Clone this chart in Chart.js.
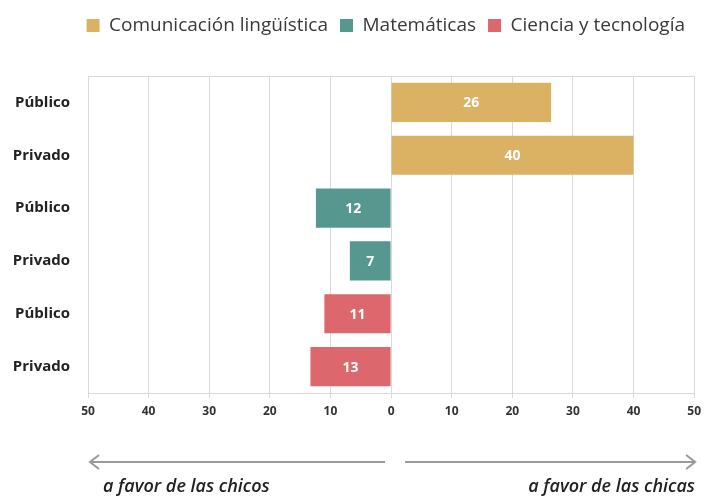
<!DOCTYPE html>
<html>
<head>
<meta charset="utf-8">
<script src="https://cdn.jsdelivr.net/npm/chart.js@4/dist/chart.umd.min.js"></script>
<style>
  html, body { margin: 0; padding: 0; background: #fff; }
  #wrap { width: 707px; height: 499px; }
</style>
</head>
<body>
<div id="wrap"><canvas id="grafica"></canvas></div>
<script>
const etiquetas = ["Público", "Privado", "Público", "Privado", "Público", "Privado"];
const nombresSeries = ["Comunicación lingüística", "Matemáticas", "Ciencia y tecnología"];
const comunicacion = [26.4, 40, null, null, null, null];
const matematicas = [null, null, -12.4, -6.8, null, null];
const ciencia = [null, null, null, null, -11, -13.3];
const colores = ["#dbb264", "#56978f", "#dc676c"];
const textoChicos = "a favor de las chicos";
const textoChicas = "a favor de las chicas";

const fuente = "'Open Sans', Lato, sans-serif";

// etiquetas blancas dentro de las barras
const etiquetasBarras = {
  id: 'etiquetasBarras',
  afterDatasetsDraw(chart) {
    const ctx = chart.ctx;
    ctx.save();
    ctx.fillStyle = '#fff';
    ctx.font = "bold 14px " + fuente;
    ctx.textAlign = 'center';
    ctx.textBaseline = 'middle';
    chart.data.datasets.forEach((ds, i) => {
      chart.getDatasetMeta(i).data.forEach((bar, j) => {
        const v = ds.data[j];
        if (v === null) return;
        ctx.fillText(Math.round(Math.abs(v)), (bar.x + bar.base) / 2, bar.y + 1);
      });
    });
    ctx.restore();
  }
};

// borde del area y flechas de abajo
const marcoYFlechas = {
  id: 'marcoYFlechas',
  beforeInit(chart) {
    const fitOrig = chart.legend.fit;
    chart.legend.fit = function () {
      fitOrig.call(this);
      this.height += 31;
    };
  },
  afterDraw(chart) {
    const ctx = chart.ctx;
    const a = chart.chartArea;
    const x = chart.scales.x;
    ctx.save();
    ctx.strokeStyle = '#d9d9d9';
    ctx.lineWidth = 1;
    ctx.beginPath();
    ctx.moveTo(a.left, a.top + 0.5);
    ctx.lineTo(a.right, a.top + 0.5);
    ctx.stroke();

    const y = 462;
    ctx.strokeStyle = '#9a9a9a';
    ctx.lineWidth = 2;
    const izq1 = x.getPixelForValue(-50) + 2, izq2 = x.getPixelForValue(0) - 6;
    const der1 = x.getPixelForValue(0) + 14, der2 = x.getPixelForValue(50) + 1;
    ctx.beginPath();
    ctx.moveTo(izq2, y); ctx.lineTo(izq1, y);
    ctx.moveTo(izq1 + 9, y - 7); ctx.lineTo(izq1, y); ctx.lineTo(izq1 + 9, y + 7);
    ctx.moveTo(der1, y); ctx.lineTo(der2, y);
    ctx.moveTo(der2 - 9, y - 7); ctx.lineTo(der2, y); ctx.lineTo(der2 - 9, y + 7);
    ctx.stroke();

    ctx.fillStyle = '#222';
    ctx.font = "italic 600 18px " + fuente;
    ctx.textBaseline = 'middle';
    ctx.textAlign = 'left';
    ctx.fillText(textoChicos, 103, 487);
    ctx.textAlign = 'right';
    ctx.fillText(textoChicas, 695, 487);
    ctx.restore();
  }
};

new Chart(document.querySelector("#grafica"), {
  type: 'bar',
  data: {
    labels: etiquetas,
    datasets: [
      { label: nombresSeries[0], data: comunicacion, backgroundColor: colores[0] },
      { label: nombresSeries[1], data: matematicas, backgroundColor: colores[1] },
      { label: nombresSeries[2], data: ciencia, backgroundColor: colores[2] }
    ]
  },
  options: {
    indexAxis: 'y',
    responsive: true,
    maintainAspectRatio: false,
    animation: false,
    layout: { padding: { top: 4, right: 10, bottom: 60, left: 0 } },
    datasets: { bar: { categoryPercentage: 1, barPercentage: 0.74 } },
    plugins: {
      legend: {
        position: 'top',
        align: 'end',
        labels: {
          boxWidth: 13,
          boxHeight: 13,
          padding: 12,
          color: '#3a3a3a',
          font: { family: fuente, size: 19 }
        }
      },
      tooltip: { enabled: false }
    },
    scales: {
      x: {
        stacked: true,
        min: -50,
        max: 50,
        ticks: {
          stepSize: 10,
          color: '#333',
          padding: 6,
          font: { family: fuente, size: 12, weight: 'bold' },
          callback: v => Math.abs(v)
        },
        grid: { color: '#d9d9d9', tickLength: 5, tickColor: '#d9d9d9' },
        border: { color: '#d9d9d9' },
        afterFit(s) { s.height = 46; }
      },
      y: {
        stacked: true,
        ticks: {
          color: '#222',
          padding: 18,
          font: { family: fuente, size: 15, weight: 'bold' }
        },
        grid: { display: false, drawTicks: false },
        border: { display: false },
        afterFit(s) { s.width = 88; }
      }
    }
  },
  plugins: [etiquetasBarras, marcoYFlechas]
});
</script>
</body>
</html>
